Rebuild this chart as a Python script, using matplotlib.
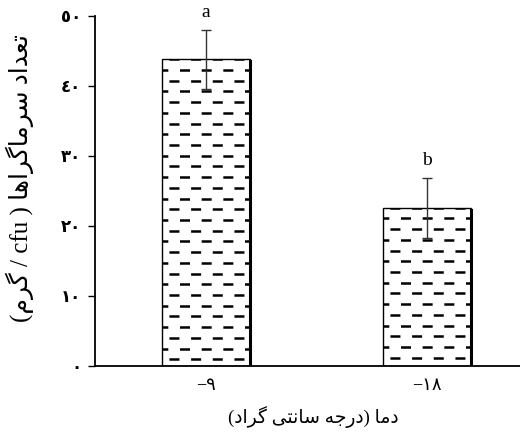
import re
import numpy as np
import matplotlib
matplotlib.use('Agg')
import matplotlib.pyplot as plt

# Latin in a Times-like face, Arabic script falls back to DejaVu Sans
plt.rcParams['font.family'] = ['Liberation Serif', 'DejaVu Sans']
plt.rcParams['lines.scale_dashes'] = False

# data
dama = ['\u2212٩', '\u2212١٨']
miangin = [43.8, 22.6]
khata = [4.2, 4.25]
harf = ['a', 'b']
y_ticks = [0, 10, 20, 30, 40, 50]
y_labels = ['٠', '١٠', '٢٠', '٣٠', '٤٠', '٥٠']

ylabel_txt = 'تعداد سرماگراها ( cfu / گرم)'
xlabel_txt = 'دما (درجه سانتی گراد)'

# contextual forms: isolated, final, initial, medial
FORMS = {
    'ا': ('\uFE8D', '\uFE8E', None, None),
    'د': ('\uFEA9', '\uFEAA', None, None),
    'ر': ('\uFEAD', '\uFEAE', None, None),
    'ت': ('\uFE95', '\uFE96', '\uFE97', '\uFE98'),
    'ع': ('\uFEC9', '\uFECA', '\uFECB', '\uFECC'),
    'س': ('\uFEB1', '\uFEB2', '\uFEB3', '\uFEB4'),
    'م': ('\uFEE1', '\uFEE2', '\uFEE3', '\uFEE4'),
    'ن': ('\uFEE5', '\uFEE6', '\uFEE7', '\uFEE8'),
    'ج': ('\uFE9D', '\uFE9E', '\uFE9F', '\uFEA0'),
    'ه': ('\uFEE9', '\uFEEA', '\uFEEB', '\uFEEC'),
    'گ': ('\uFB92', '\uFB93', '\uFB94', '\uFB95'),
    'ی': ('\uFBFC', '\uFBFD', '\uFBFE', '\uFBFF'),
}


def shape(text):
    out = []
    for i, ch in enumerate(text):
        if ch not in FORMS:
            out.append(ch)
            continue
        iso, fin, ini, med = FORMS[ch]
        prev = text[i - 1] if i > 0 else ''
        nxt = text[i + 1] if i + 1 < len(text) else ''
        j_prev = prev in FORMS and FORMS[prev][2] is not None
        j_next = ini is not None and nxt in FORMS
        if j_prev and j_next:
            out.append(med)
        elif j_prev:
            out.append(fin)
        elif j_next:
            out.append(ini)
        else:
            out.append(iso)
    return ''.join(out)


def rtl(text):
    s = shape(text)[::-1]
    s = re.sub(r'[A-Za-z]+', lambda m: m.group(0)[::-1], s)
    return s.translate(str.maketrans('()', ')('))


fig = plt.figure(figsize=(5.2, 4.37), dpi=100)
ax = fig.add_axes([0.183, 0.1625, 0.817, 0.801])

x = np.arange(len(dama))
bars = ax.bar(x, miangin, width=0.4, color='white', edgecolor='black',
              linewidth=1, zorder=2)

# dashed fill, staggered rows
step = 1.53
for bar in bars:
    x0, w, h = bar.get_x(), bar.get_width(), bar.get_height()
    for k, yy in enumerate(np.arange(h, 0, -step)):
        off = 10.6 if k % 2 == 0 else 3.0
        ln, = ax.plot([x0, x0 + w], [yy, yy], color='black', lw=1.8,
                      linestyle=(off, (7.2, 8.4)), zorder=3)
        ln.set_clip_path(bar)
    ax.plot([x0 + w, x0 + w], [0, h - 0.3], color='black', lw=2.2, zorder=3)

ax.errorbar(x, miangin, yerr=khata, fmt='none', ecolor='#333333',
            elinewidth=1, capsize=3.6, capthick=1, zorder=4)

for xi, m, e, t in zip(x, miangin, khata, harf):
    ax.text(xi, m + e + 1.3, t, ha='center', va='bottom', fontsize=14,
            clip_on=False)

ax.set_xlim(-0.502, 1.421)
ax.set_ylim(0, 50)
ax.set_xticks(x)
ax.set_xticklabels(dama, fontsize=13)
ax.set_yticks(y_ticks)
ax.set_yticklabels(y_labels, fontsize=12, fontweight='bold')
ax.tick_params(axis='x', length=0, pad=8)
ax.tick_params(axis='y', direction='out', length=5, width=1, pad=5)

for side in ['top', 'right']:
    ax.spines[side].set_visible(False)
for side in ['left', 'bottom']:
    ax.spines[side].set_linewidth(1.3)

ax.set_ylabel(rtl(ylabel_txt), fontsize=18)
ax.yaxis.set_label_coords(-0.145, 0.537)
ax.set_xlabel(rtl(xlabel_txt), fontsize=13.5)
ax.xaxis.set_label_coords(0.513, -0.115)

fig.savefig('out.png', dpi=100)
